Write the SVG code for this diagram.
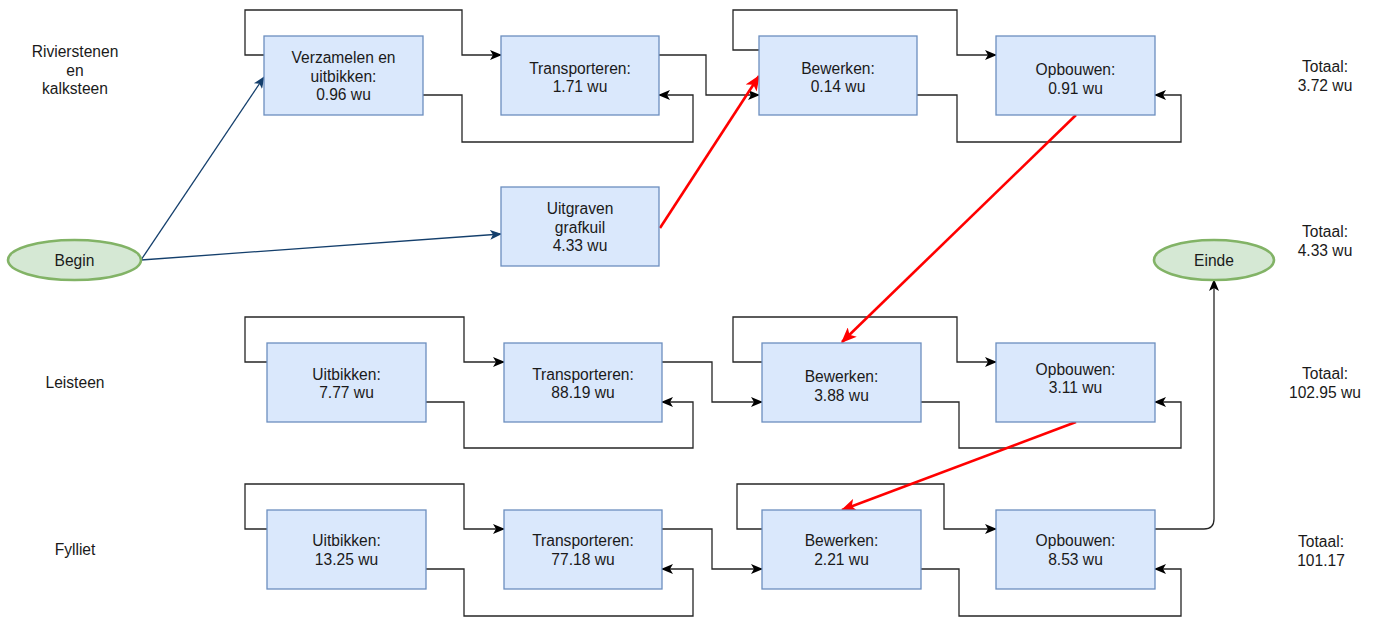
<svg xmlns="http://www.w3.org/2000/svg" width="1374" height="617" viewBox="0 0 1374 617">
<style>
text{font-family:"Liberation Sans",Arial,sans-serif;font-size:15.6px;fill:#1a1a1a;text-anchor:middle}
.box{fill:#dae8fc;stroke:#6c8ebf;stroke-width:1.3}
.term{fill:#d5e8d4;stroke:#82b366;stroke-width:2.6}
.c{fill:none;stroke:#262626;stroke-width:1.3;marker-end:url(#ab)}
.b{fill:none;stroke:#143f6c;stroke-width:1.3;marker-end:url(#abl)}
.r{fill:none;stroke:#ff0000;stroke-width:2.6;marker-end:url(#ar)}
</style>
<defs>
<marker id="ab" viewBox="0 0 12 10" refX="11" refY="5" markerWidth="12" markerHeight="10" markerUnits="userSpaceOnUse" orient="auto"><path d="M0,0 L12,5 L0,10 L3,5 z" fill="#000"/></marker>
<marker id="abl" viewBox="0 0 12 10" refX="11" refY="5" markerWidth="12" markerHeight="10" markerUnits="userSpaceOnUse" orient="auto"><path d="M0,0 L12,5 L0,10 L3,5 z" fill="#143f6c"/></marker>
<marker id="ar" viewBox="0 0 12 10" refX="11" refY="5" markerWidth="16" markerHeight="13" markerUnits="userSpaceOnUse" orient="auto"><path d="M0,0 L12,5 L0,10 L3,5 z" fill="#ff0000"/></marker>
</defs>

<g id="labels">
<text x="75" y="57">Rivierstenen</text>
<text x="75" y="75.5">en</text>
<text x="75" y="93.5">kalksteen</text>
<text x="75" y="388">Leisteen</text>
<text x="75" y="555">Fylliet</text>
<text x="1325" y="72">Totaal:</text>
<text x="1325" y="91">3.72 wu</text>
<text x="1325" y="236.5">Totaal:</text>
<text x="1325" y="255.5">4.33 wu</text>
<text x="1325" y="378.5">Totaal:</text>
<text x="1325" y="397.5">102.95 wu</text>
<text x="1321" y="546.5">Totaal:</text>
<text x="1321" y="565.5">101.17</text>
</g>

<g id="connectors">
<path class="c" d="M264,55 H245 V10 H462 V55 H501"/>
<path class="c" d="M423,95 H462 V142 H693 V95 H659"/>
<path class="c" d="M659,55 H706 V95 H759"/>
<path class="c" d="M759,50 H733 V10 H957 V55 H996"/>
<path class="c" d="M917,95 H957 V142 H1181 V95 H1155"/>
<path class="c" d="M267,362 H245 V317 H464 V362 H504"/>
<path class="c" d="M426,402 H464 V448 H693 V402 H662"/>
<path class="c" d="M662,362 H712 V402 H762"/>
<path class="c" d="M762,362 H733 V317 H957 V362 H996"/>
<path class="c" d="M921,402 H959 V448 H1181 V402 H1155"/>
<path class="c" d="M267,529 H245 V484 H464 V529 H504"/>
<path class="c" d="M426,569 H464 V616 H693 V569 H662"/>
<path class="c" d="M662,529 H712 V569 H762"/>
<path class="c" d="M762,529 H737 V484 H944 V529 H996"/>
<path class="c" d="M921,569 H959 V616 H1181 V569 H1155"/>
<path class="c" d="M1155,529 H1204 Q1214,529 1214,519 V280"/>
<path class="b" d="M141,260 L264,77"/>
<path class="b" d="M141,260 L501,234"/>
<path class="r" d="M660,228 L759,76"/>
<path class="r" d="M1076,115 L842,342"/>
<path class="r" d="M1076,422 L842,510"/>
<path class="c" d="M1076,115 V88"/>
</g>

<g id="begin"><ellipse class="term" cx="74.5" cy="260" rx="66.5" ry="20"/><text x="74.5" y="265.5">Begin</text></g>
<g id="einde"><ellipse class="term" cx="1214" cy="260" rx="60" ry="20"/><text x="1214" y="265.5">Einde</text></g>

<g id="verzamelen"><rect class="box" x="264" y="36" width="159" height="79"/><text x="343.5" y="63">Verzamelen en</text><text x="343.5" y="81.5">uitbikken:</text><text x="343.5" y="100">0.96 wu</text></g>
<g id="transporteren1"><rect class="box" x="501" y="36" width="158" height="79"/><text x="580" y="73.5">Transporteren:</text><text x="580" y="92">1.71 wu</text></g>
<g id="bewerken1"><rect class="box" x="759" y="36" width="158" height="79"/><text x="838" y="73.5">Bewerken:</text><text x="838" y="92">0.14 wu</text></g>
<g id="opbouwen1"><rect class="box" x="996" y="36" width="159" height="79"/><text x="1075.5" y="75">Opbouwen:</text><text x="1075.5" y="93.5">0.91 wu</text></g>
<g id="uitgraven"><rect class="box" x="501" y="187" width="158" height="79"/><text x="580" y="214">Uitgraven</text><text x="580" y="232.5">grafkuil</text><text x="580" y="251">4.33 wu</text></g>

<g id="uitbikken2"><rect class="box" x="267" y="343" width="159" height="79"/><text x="346.5" y="379.5">Uitbikken:</text><text x="346.5" y="398">7.77 wu</text></g>
<g id="transporteren2"><rect class="box" x="504" y="343" width="158" height="79"/><text x="583" y="379.5">Transporteren:</text><text x="583" y="398">88.19 wu</text></g>
<g id="bewerken2"><rect class="box" x="762" y="343" width="159" height="79"/><text x="841.5" y="382">Bewerken:</text><text x="841.5" y="400.5">3.88 wu</text></g>
<g id="opbouwen2"><rect class="box" x="996" y="343" width="159" height="79"/><text x="1075.5" y="374.5">Opbouwen:</text><text x="1075.5" y="393">3.11 wu</text></g>

<g id="uitbikken3"><rect class="box" x="267" y="510" width="159" height="79"/><text x="346.5" y="546">Uitbikken:</text><text x="346.5" y="564.5">13.25 wu</text></g>
<g id="transporteren3"><rect class="box" x="504" y="510" width="158" height="79"/><text x="583" y="546">Transporteren:</text><text x="583" y="564.5">77.18 wu</text></g>
<g id="bewerken3"><rect class="box" x="762" y="510" width="159" height="79"/><text x="841.5" y="546">Bewerken:</text><text x="841.5" y="564.5">2.21 wu</text></g>
<g id="opbouwen3"><rect class="box" x="996" y="510" width="159" height="79"/><text x="1075.5" y="546">Opbouwen:</text><text x="1075.5" y="564.5">8.53 wu</text></g>
</svg>
